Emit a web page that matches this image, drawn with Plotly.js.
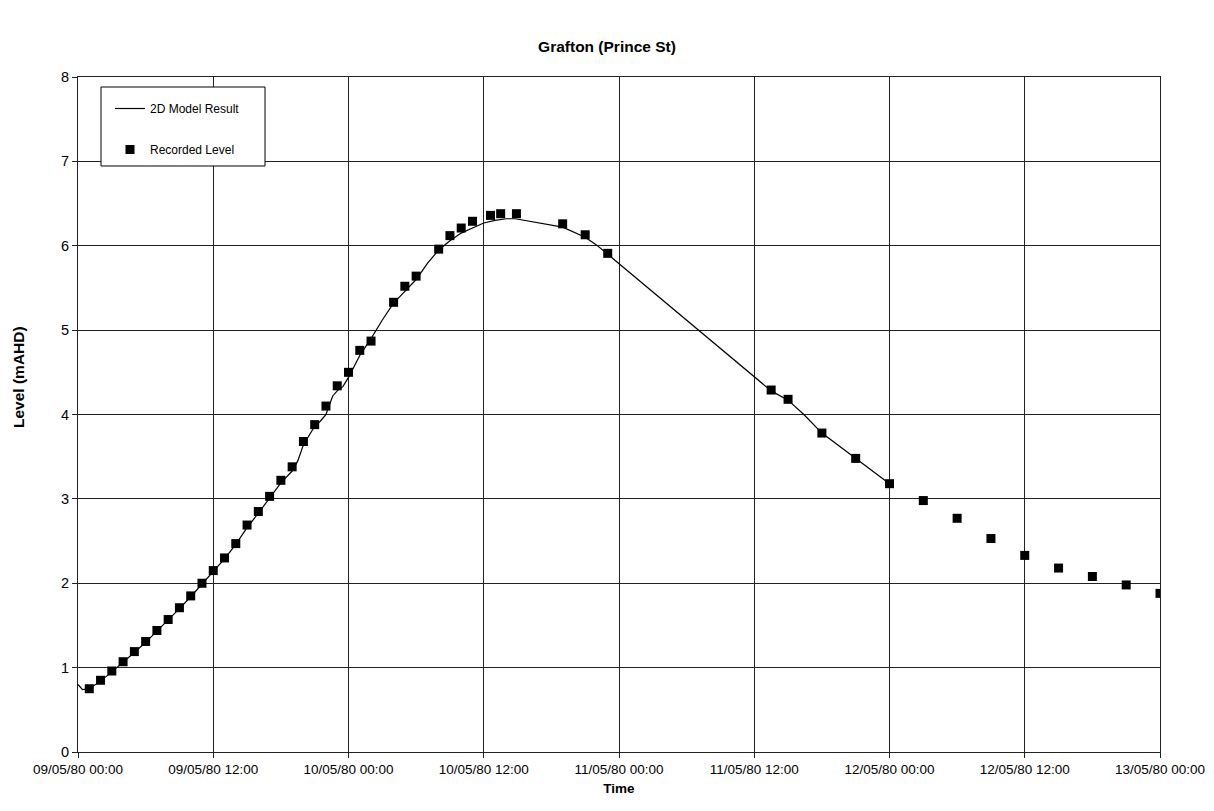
<!DOCTYPE html>
<html>
<head>
<meta charset="utf-8">
<script src="https://cdn.plot.ly/plotly-3.0.1.min.js"></script>
<style>html,body{margin:0;padding:0;background:#fff;}#chart{width:1214px;height:811px;}</style>
</head>
<body>
<div id="chart"></div>
<script>
// Time in hours after 09/05/80 00:00
const startDate = Date.UTC(1980, 4, 9, 0, 0, 0);

const modelHours = [0,0.4,1,2,3,4,5,6,7,8,9,10,11,12,13,14,15,16,17,18,19,19.5,20,21,21.5,22,22.6,23,23.5,24,25,26,27,28,29,30,31,32,33,34,35,36,37,38,38.8,40,43,45,46,47,60,61.5,63,64.4,66,69,72];
const modelLevel = [0.80,0.74,0.75,0.84,0.95,1.06,1.18,1.30,1.43,1.56,1.70,1.84,1.99,2.14,2.29,2.46,2.66,2.83,3.01,3.19,3.33,3.45,3.64,3.86,3.92,4.00,4.22,4.28,4.33,4.44,4.70,4.90,5.12,5.32,5.46,5.60,5.79,5.95,6.06,6.15,6.21,6.27,6.30,6.32,6.32,6.29,6.22,6.10,6.01,5.90,4.44,4.28,4.17,4.00,3.78,3.48,3.18];

const recHours = [1,2,3,4,5,6,7,8,9,10,11,12,13,14,15,16,17,18,19,20,21,22,23,24,25,26,28,29,30,32,33,34,35,36.6,37.5,38.9,43,45,47,61.5,63,66,69,72,75,78,81,84,87,90,93,96];
const recLevel = [0.75,0.85,0.96,1.07,1.19,1.31,1.44,1.57,1.71,1.85,2.00,2.15,2.30,2.47,2.69,2.85,3.03,3.22,3.38,3.68,3.88,4.10,4.34,4.50,4.76,4.87,5.33,5.52,5.64,5.96,6.12,6.21,6.29,6.36,6.38,6.38,6.26,6.13,5.91,4.29,4.18,3.78,3.48,3.18,2.98,2.77,2.53,2.33,2.18,2.08,1.98,1.88];

const seriesNames = ['2D Model Result', 'Recorded Level'];
const chartTitle = 'Grafton (Prince St)';
const xTitle = 'Time';
const yTitle = 'Level (mAHD)';

function toDate(h) {
  return new Date(startDate + h * 3600000).toISOString().slice(0, 19).replace('T', ' ');
}

const FONT = 'Arial, "Liberation Sans", sans-serif';

const traces = [
  {
    x: modelHours.map(toDate), y: modelLevel, name: seriesNames[0],
    type: 'scatter', mode: 'lines', line: {color: '#000', width: 1.2},
    legendgroup: 'a'
  },
  {
    x: recHours.map(toDate), y: recLevel, name: seriesNames[1],
    type: 'scatter', mode: 'markers',
    marker: {symbol: 'square', color: '#000', size: 9, line: {width: 0}},
    legendgroup: 'b'
  }
];

const layout = {
  width: 1214, height: 811,
  paper_bgcolor: '#fff', plot_bgcolor: '#fff',
  font: {family: FONT, color: '#000', size: 12},
  margin: {l: 78, r: 54, t: 77, b: 59},
  title: {
    text: '<b>' + chartTitle + '</b>',
    font: {family: FONT, size: 15.5, color: '#000'},
    x: 0.5, xref: 'container', xanchor: 'center',
    y: 1 - 47 / 811, yref: 'container', yanchor: 'middle'
  },
  xaxis: {
    type: 'date',
    range: [toDate(0), toDate(96)],
    tick0: toDate(0), dtick: 12 * 3600000,
    tickformat: '%d/%m/%y %H:%M',
    showgrid: true, gridcolor: '#222', gridwidth: 1,
    showline: true, linecolor: '#222', linewidth: 1, mirror: true,
    ticks: 'outside', ticklen: 5, tickcolor: '#222',
    tickfont: {family: FONT, size: 13.5, color: '#000'},
    zeroline: false,
    title: {text: '<b>' + xTitle + '</b>', font: {family: FONT, size: 13.5, color: '#000'}, standoff: 7}
  },
  yaxis: {
    range: [0, 8], dtick: 1, tick0: 0,
    showgrid: true, gridcolor: '#222', gridwidth: 1,
    showline: true, linecolor: '#222', linewidth: 1, mirror: true,
    ticks: 'outside', ticklen: 5, tickcolor: '#222',
    tickfont: {family: FONT, size: 14.5, color: '#000'},
    zeroline: false
  },
  annotations: [{
    text: '<b>' + yTitle + '</b>', textangle: -90, showarrow: false,
    xref: 'paper', yref: 'paper', x: (18 - 78) / 1082, y: (752 - 377) / 675,
    xanchor: 'center', yanchor: 'middle',
    font: {family: FONT, size: 15.5, color: '#000'}
  }],
  shapes: [{
    type: 'rect', xref: 'paper', yref: 'paper', layer: 'above',
    x0: (101 - 78) / 1082, x1: (265 - 78) / 1082,
    y0: (752 - 166) / 675, y1: (752 - 87) / 675,
    line: {color: '#000', width: 1}, fillcolor: '#fff'
  }],
  showlegend: true,
  legend: {
    x: (110 - 78) / 1082, y: (752 - 94) / 675, xanchor: 'left', yanchor: 'top',
    bgcolor: 'rgba(0,0,0,0)', borderwidth: 0,
    font: {family: FONT, size: 12, color: '#000'},
    traceorder: 'grouped', tracegroupgap: 22, itemwidth: 30
  }
};

Plotly.newPlot('chart', traces, layout, {displayModeBar: false, staticPlot: true});
</script>
</body>
</html>
